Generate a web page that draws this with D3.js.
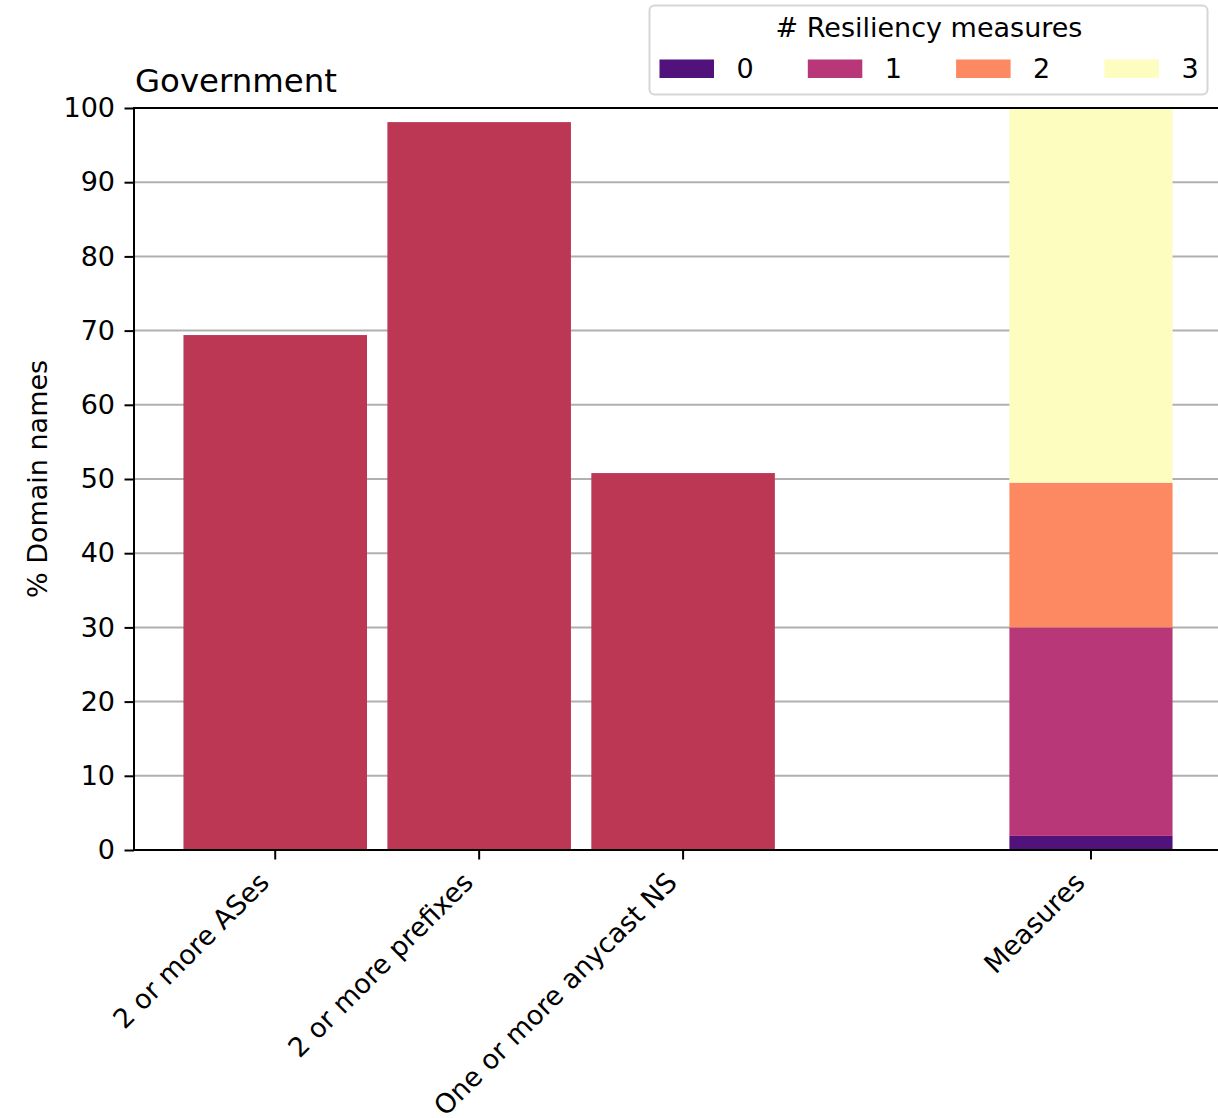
<!DOCTYPE html>
<html><head><meta charset="utf-8">
<script src="https://cdn.jsdelivr.net/npm/d3@7"></script>
<style>body{margin:0;background:#fff;} svg{display:block;font-family:"DejaVu Sans",sans-serif;}</style>
</head><body>
<script>
const categories = ["2 or more ASes", "2 or more prefixes", "One or more anycast NS"];
const categoryPositions = [0, 1, 2];
const categoryValues = [69.4, 98.1, 50.8];
const stackLabel = "Measures";
const stackPosition = 4;
const measureKeys = ["0", "1", "2", "3"];
const measureValues = [1.9, 28.1, 19.5, 50.5];
const measureColors = ["#51127c", "#b73779", "#fc8961", "#fcfdbf"];
const barColor = "#bc3754";
const yTicks = [0, 10, 20, 30, 40, 50, 60, 70, 80, 90, 100];

(function () {
const W = 1218, H = 1118;
const FS = 27;
const LW = 2;
const svg = d3.select("body").append("svg").attr("width", W).attr("height", H);
const mLeft = 134, mTop = 108, mBottom = 850, mRight = 1222;

const x = d3.scaleLinear().domain([-0.6925, 4.6425]).range([mLeft, mRight]);
const y = d3.scaleLinear().domain([0, 100]).range([mBottom, mTop]);

// grid
svg.append("g").selectAll("line").data(yTicks).join("line")
  .attr("x1", mLeft).attr("x2", mRight)
  .attr("y1", d => y(d)).attr("y2", d => y(d))
  .attr("stroke", "#b0b0b0").attr("stroke-width", LW);

// bars
svg.append("g").selectAll("rect").data(categoryValues).join("rect")
  .attr("x", (d, i) => x(categoryPositions[i] - 0.45))
  .attr("width", x(0.45) - x(-0.45))
  .attr("y", d => y(d))
  .attr("height", d => y(0) - y(d))
  .attr("fill", barColor);

// stacked
let cum = 0;
const stacks = measureValues.map((v, i) => { const s = {y0: cum, y1: cum + v, c: measureColors[i]}; cum += v; return s; });
svg.append("g").selectAll("rect").data(stacks).join("rect")
  .attr("x", x(stackPosition - 0.4))
  .attr("width", x(0.4) - x(-0.4))
  .attr("y", d => y(d.y1))
  .attr("height", d => y(d.y0) - y(d.y1))
  .attr("fill", d => d.c);

// spines
svg.append("line").attr("x1", mLeft).attr("x2", mLeft).attr("y1", mTop - 1).attr("y2", mBottom + 1).attr("stroke", "#000").attr("stroke-width", LW);
svg.append("line").attr("x1", mLeft).attr("x2", W).attr("y1", mTop).attr("y2", mTop).attr("stroke", "#000").attr("stroke-width", LW);
svg.append("line").attr("x1", mLeft).attr("x2", W).attr("y1", mBottom).attr("y2", mBottom).attr("stroke", "#000").attr("stroke-width", LW);

// y axis
const yAxis = d3.axisLeft(y).tickValues(yTicks).tickSize(9.5).tickPadding(9.5);
const gy = svg.append("g").attr("transform", `translate(${mLeft},0)`).call(yAxis);
gy.select(".domain").remove();
gy.selectAll("line").attr("stroke", "#000").attr("stroke-width", LW);
gy.selectAll("text").attr("font-size", FS).attr("fill", "#000").attr("font-family", "DejaVu Sans");

// x ticks
const xTickPos = categoryPositions.concat([stackPosition]);
const xTickLabels = categories.concat([stackLabel]);
svg.append("g").selectAll("line").data(xTickPos).join("line")
  .attr("x1", d => x(d)).attr("x2", d => x(d))
  .attr("y1", mBottom).attr("y2", mBottom + 9.5)
  .attr("stroke", "#000").attr("stroke-width", LW);
svg.append("g").selectAll("text").data(xTickLabels).join("text")
  .attr("transform", (d, i) => `translate(${x(xTickPos[i]) - 4.5},${mBottom + 34}) rotate(-45)`)
  .attr("text-anchor", "end")
  .attr("font-size", FS)
  .attr("fill", "#000")
  .text(d => d);

// y label
svg.append("text")
  .attr("transform", `translate(47,${(mTop + mBottom) / 2}) rotate(-90)`)
  .attr("text-anchor", "middle").attr("font-size", FS).text("% Domain names");

// title
svg.append("text").attr("x", mLeft + 1).attr("y", 92).attr("font-size", 32.4).text("Government");

// legend
const lg = svg.append("g");
lg.append("rect").attr("x", 649.5).attr("y", 5.5).attr("width", 558).attr("height", 89).attr("rx", 5)
  .attr("fill", "#fff").attr("stroke", "#d6d6d6").attr("stroke-width", LW);
lg.append("text").attr("x", 929).attr("y", 37).attr("text-anchor", "middle").attr("font-size", FS).text("# Resiliency measures");
const entries = lg.selectAll("g.e").data(measureKeys).join("g").attr("class", "e")
  .attr("transform", (d, i) => `translate(${659.5 + i * 148.3},0)`);
entries.append("rect").attr("x", 0).attr("y", 59.5).attr("width", 54.5).attr("height", 18.5).attr("fill", (d, i) => measureColors[i]);
entries.append("text").attr("x", 77).attr("y", 78).attr("font-size", FS).text(d => d);
})();
</script>
</body></html>
